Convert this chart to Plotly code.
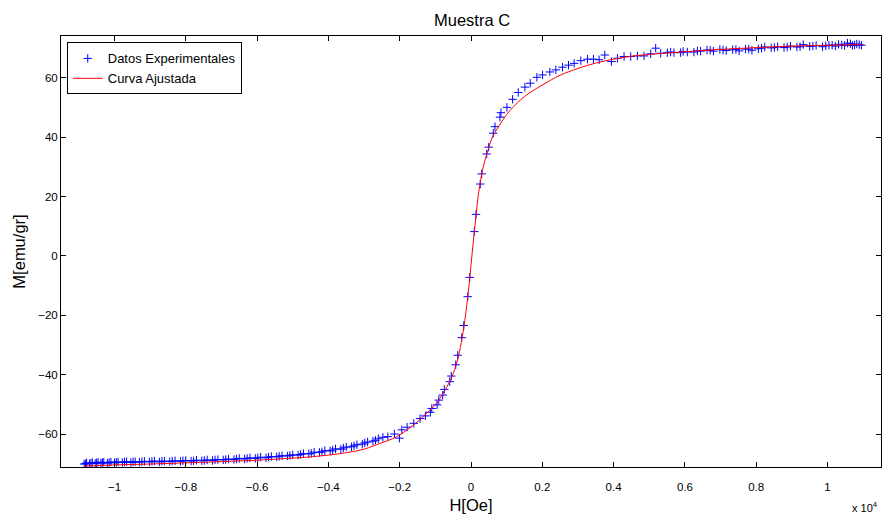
import plotly.graph_objects as go

# Experimental data (H in Oe, M in emu/gr)
H_exp = [-10850, -10780, -10700, -10620, -10540, -10460, -10380, -10300, -10200, -10100,
         -10000, -9900, -9780, -9660, -9540, -9420, -9300, -9160, -9020, -8880,
         -8740, -8600, -8450, -8300, -8150, -8000, -7850, -7700, -7550, -7400,
         -7250, -7100, -6950, -6800, -6650, -6500, -6350, -6200, -6050, -5900,
         -5750, -5600, -5450, -5300, -5150, -5000, -4850, -4700, -4550, -4400,
         -4250, -4100, -3950, -3800, -3650, -3500, -3350, -3200, -3050, -2900,
         -2750, -2600, -2472, -2332, -2148, -2008, -1940, -1792, -1604, -1428,
         -1280, -1140, -1100, -952, -904, -792, -748, -596, -552, -428,
         -372, -260, -204, -92, -36, 92, 140, 260, 300, 440,
         496, 624, 672, 812, 840, 1008, 1167, 1325, 1512, 1661,
         1848, 2007, 2212, 2380, 2567, 2735, 2893, 3080, 3267, 3435,
         3593, 3752, 3939, 4107, 4293, 4480, 4667, 4853, 5040, 5180,
         5320, 5507, 5693, 5880, 6067, 6253, 6440, 6620, 6800, 6980,
         7160, 7340, 7520, 7700, 7880, 8060, 8240, 8420, 8600, 8780,
         8960, 9140, 9320, 9500, 9680, 9860, 10040, 10220, 10400, 10560,
         10700, 10820, 10950]
M_exp = [-70.0, -69.6, -69.9, -69.5, -69.8, -69.4, -69.7, -69.4, -69.7, -69.3,
         -69.6, -69.3, -69.5, -69.2, -69.5, -69.2, -69.4, -69.1, -69.3, -69.0,
         -69.3, -69.0, -69.2, -68.9, -69.1, -68.8, -69.0, -68.7, -68.9, -68.6,
         -68.8, -68.5, -68.6, -68.3, -68.5, -68.1, -68.3, -67.9, -68.1, -67.7,
         -67.9, -67.5, -67.6, -67.2, -67.3, -66.9, -67.0, -66.5, -66.6, -66.0,
         -66.1, -65.5, -65.6, -64.9, -65.0, -64.3, -64.2, -63.5, -63.3, -62.6,
         -62.3, -61.5, -61.0, -60.8, -59.9, -61.3, -58.5, -57.6, -56.3, -54.7,
         -53.8, -52.6, -51.3, -50.1, -48.5, -46.8, -44.9, -42.3, -40.4, -36.6,
         -33.4, -27.5, -23.4, -13.7, -7.2, 8.2, 14.0, 24.2, 27.6, 34.3,
         36.6, 41.3, 43.5, 46.7, 48.2, 50.0, 52.7, 55.0, 56.8, 58.1,
         60.1, 60.9, 61.9, 62.6, 63.5, 64.2, 64.8, 65.7, 66.2, 66.2,
         66.0, 67.6, 65.4, 66.5, 67.1, 67.1, 67.3, 67.3, 68.0, 69.9,
         68.2, 68.4, 68.4, 68.4, 68.6, 68.6, 68.9, 69.3, 68.9, 69.5,
         69.1, 69.4, 69.0, 69.6, 69.2, 69.7, 70.3, 70.0, 70.4, 70.1,
         70.6, 70.3, 71.1, 70.5, 70.8, 70.4, 70.9, 70.6, 71.0, 71.6,
         70.8, 71.3, 70.9]

# Second sweep of experimental points (return branch, tails)
H_exp2 = [-10810, -10660, -10500, -10340, -10150, -9950, -9720, -9480, -9230, -8950,
          -8670, -8380, -8080, -7780, -7480, -7180, -6880, -6580, -6280, -5980,
          -5680, -5380, -5080, -4780, -4480, -4180, -3880, -3580, -3280, -2980,
          -2680,
          5600, 5950, 6350, 6710, 7070, 7430, 7790, 8150, 8510, 8870,
          9230, 9590, 9950, 10130, 10310, 10480, 10640, 10760, 10890]
M_exp2 = [-69.9, -69.7, -69.6, -69.5, -69.5, -69.4, -69.3, -69.3, -69.2, -69.1,
          -69.1, -69.0, -68.9, -68.9, -68.8, -68.6, -68.5, -68.3, -68.1, -67.9,
          -67.7, -67.4, -67.1, -66.8, -66.4, -65.9, -65.3, -64.6, -63.9, -62.9,
          -62.0,
          68.6, 68.8, 69.0, 69.2, 69.3, 69.5, 69.6, 69.9, 70.1, 70.3,
          70.4, 70.6, 70.7, 70.9, 71.2, 70.8, 71.4, 71.0, 71.1]

# Fitted curve
H_fit = [-10850, -10000, -9000, -8000, -7000, -6000, -5000, -4500, -4000, -3500,
         -3000, -2500, -2200, -2000, -1800, -1600, -1400, -1200, -1000, -800,
         -600, -500, -400, -300, -200, -150, -100, -50, 0, 50,
         100, 150, 200, 300, 400, 500, 600, 800, 1000, 1200,
         1400, 1600, 1800, 2000, 2200, 2500, 3000, 3500, 4000, 4500,
         5000, 6000, 7000, 8000, 9000, 10000, 10950]
M_fit = [-70.7, -70.3, -70.0, -69.6, -69.2, -68.7, -68.0, -67.6, -67.0, -66.2,
         -65.0, -62.8, -61.5, -60.2, -58.6, -56.8, -54.7, -52.4, -50.0, -46.6,
         -42.3, -39.6, -36.0, -30.8, -24.0, -19.5, -14.8, -9.3, -3.0, 3.0,
         9.0, 14.5, 20.0, 27.5, 32.5, 36.5, 40.0, 44.0, 47.6, 50.3,
         52.6, 54.5, 56.1, 57.5, 58.9, 60.8, 63.1, 64.9, 66.2, 67.2,
         67.8, 68.7, 69.5, 70.1, 70.6, 70.9, 71.1]

x_tickvals = [-10000, -8000, -6000, -4000, -2000, 0, 2000, 4000, 6000, 8000, 10000]
x_ticktext = ["\u22121", "\u22120.8", "\u22120.6", "\u22120.4", "\u22120.2", "0",
              "0.2", "0.4", "0.6", "0.8", "1"]
y_tickvals = [-60, -40, -20, 0, 20, 40, 60]
y_ticktext = ["\u221260", "\u221240", "\u221220", "0", "20", "40", "60"]

FONT = "Liberation Sans, Arial, Helvetica, sans-serif"

fig = go.Figure()
fig.add_trace(go.Scatter(
    x=H_exp + H_exp2, y=M_exp + M_exp2, mode="markers", name="Datos Experimentales",
    marker=dict(symbol="cross-thin", size=6, line=dict(color="#0000ff", width=1), color="#0000ff"),
))
fig.add_trace(go.Scatter(
    x=H_fit, y=M_fit, mode="lines", name="Curva Ajustada",
    line=dict(color="#ff0000", width=1, shape="spline"),
))

axis_common = dict(
    showline=True, linecolor="black", linewidth=1, mirror="ticks",
    ticks="inside", ticklen=5, tickcolor="black", tickwidth=1,
    showgrid=False, zeroline=False, automargin=False,
    tickfont=dict(family=FONT, size=11.5, color="black"),
)

fig.update_layout(
    width=884, height=520,
    paper_bgcolor="white", plot_bgcolor="white",
    margin=dict(l=61, r=3, t=36, b=53),
    font=dict(family=FONT, color="black"),
    title=dict(text="Muestra C", x=0.534, xanchor="center", y=0.962, yanchor="middle",
               font=dict(family=FONT, size=16.5, color="black")),
    xaxis=dict(range=[-11500, 11500], tickvals=x_tickvals, ticktext=x_ticktext,
               ticklabelstandoff=9,
               title=dict(text="H[Oe]", font=dict(family=FONT, size=16.5, color="black"), standoff=7),
               **axis_common),
    yaxis=dict(range=[-71, 74], tickvals=y_tickvals, ticktext=y_ticktext,
               title=dict(text="M[emu/gr]", font=dict(family=FONT, size=16.5, color="black"), standoff=8),
               **axis_common),
    showlegend=True,
    legend=dict(x=0.007, y=0.985, xanchor="left", yanchor="top",
                bgcolor="white", bordercolor="black", borderwidth=1,
                font=dict(family=FONT, size=13, color="black"),
                tracegroupgap=0),
    annotations=[dict(text="x 10<sup>4</sup>", xref="paper", yref="paper",
                      x=0.999, y=-0.093, xanchor="right", yanchor="middle",
                      showarrow=False, font=dict(family=FONT, size=11, color="black"))],
)

fig.write_html("out.html", config={"displayModeBar": False},
               post_script="document.body.style.margin='0';document.body.style.padding='0';")
